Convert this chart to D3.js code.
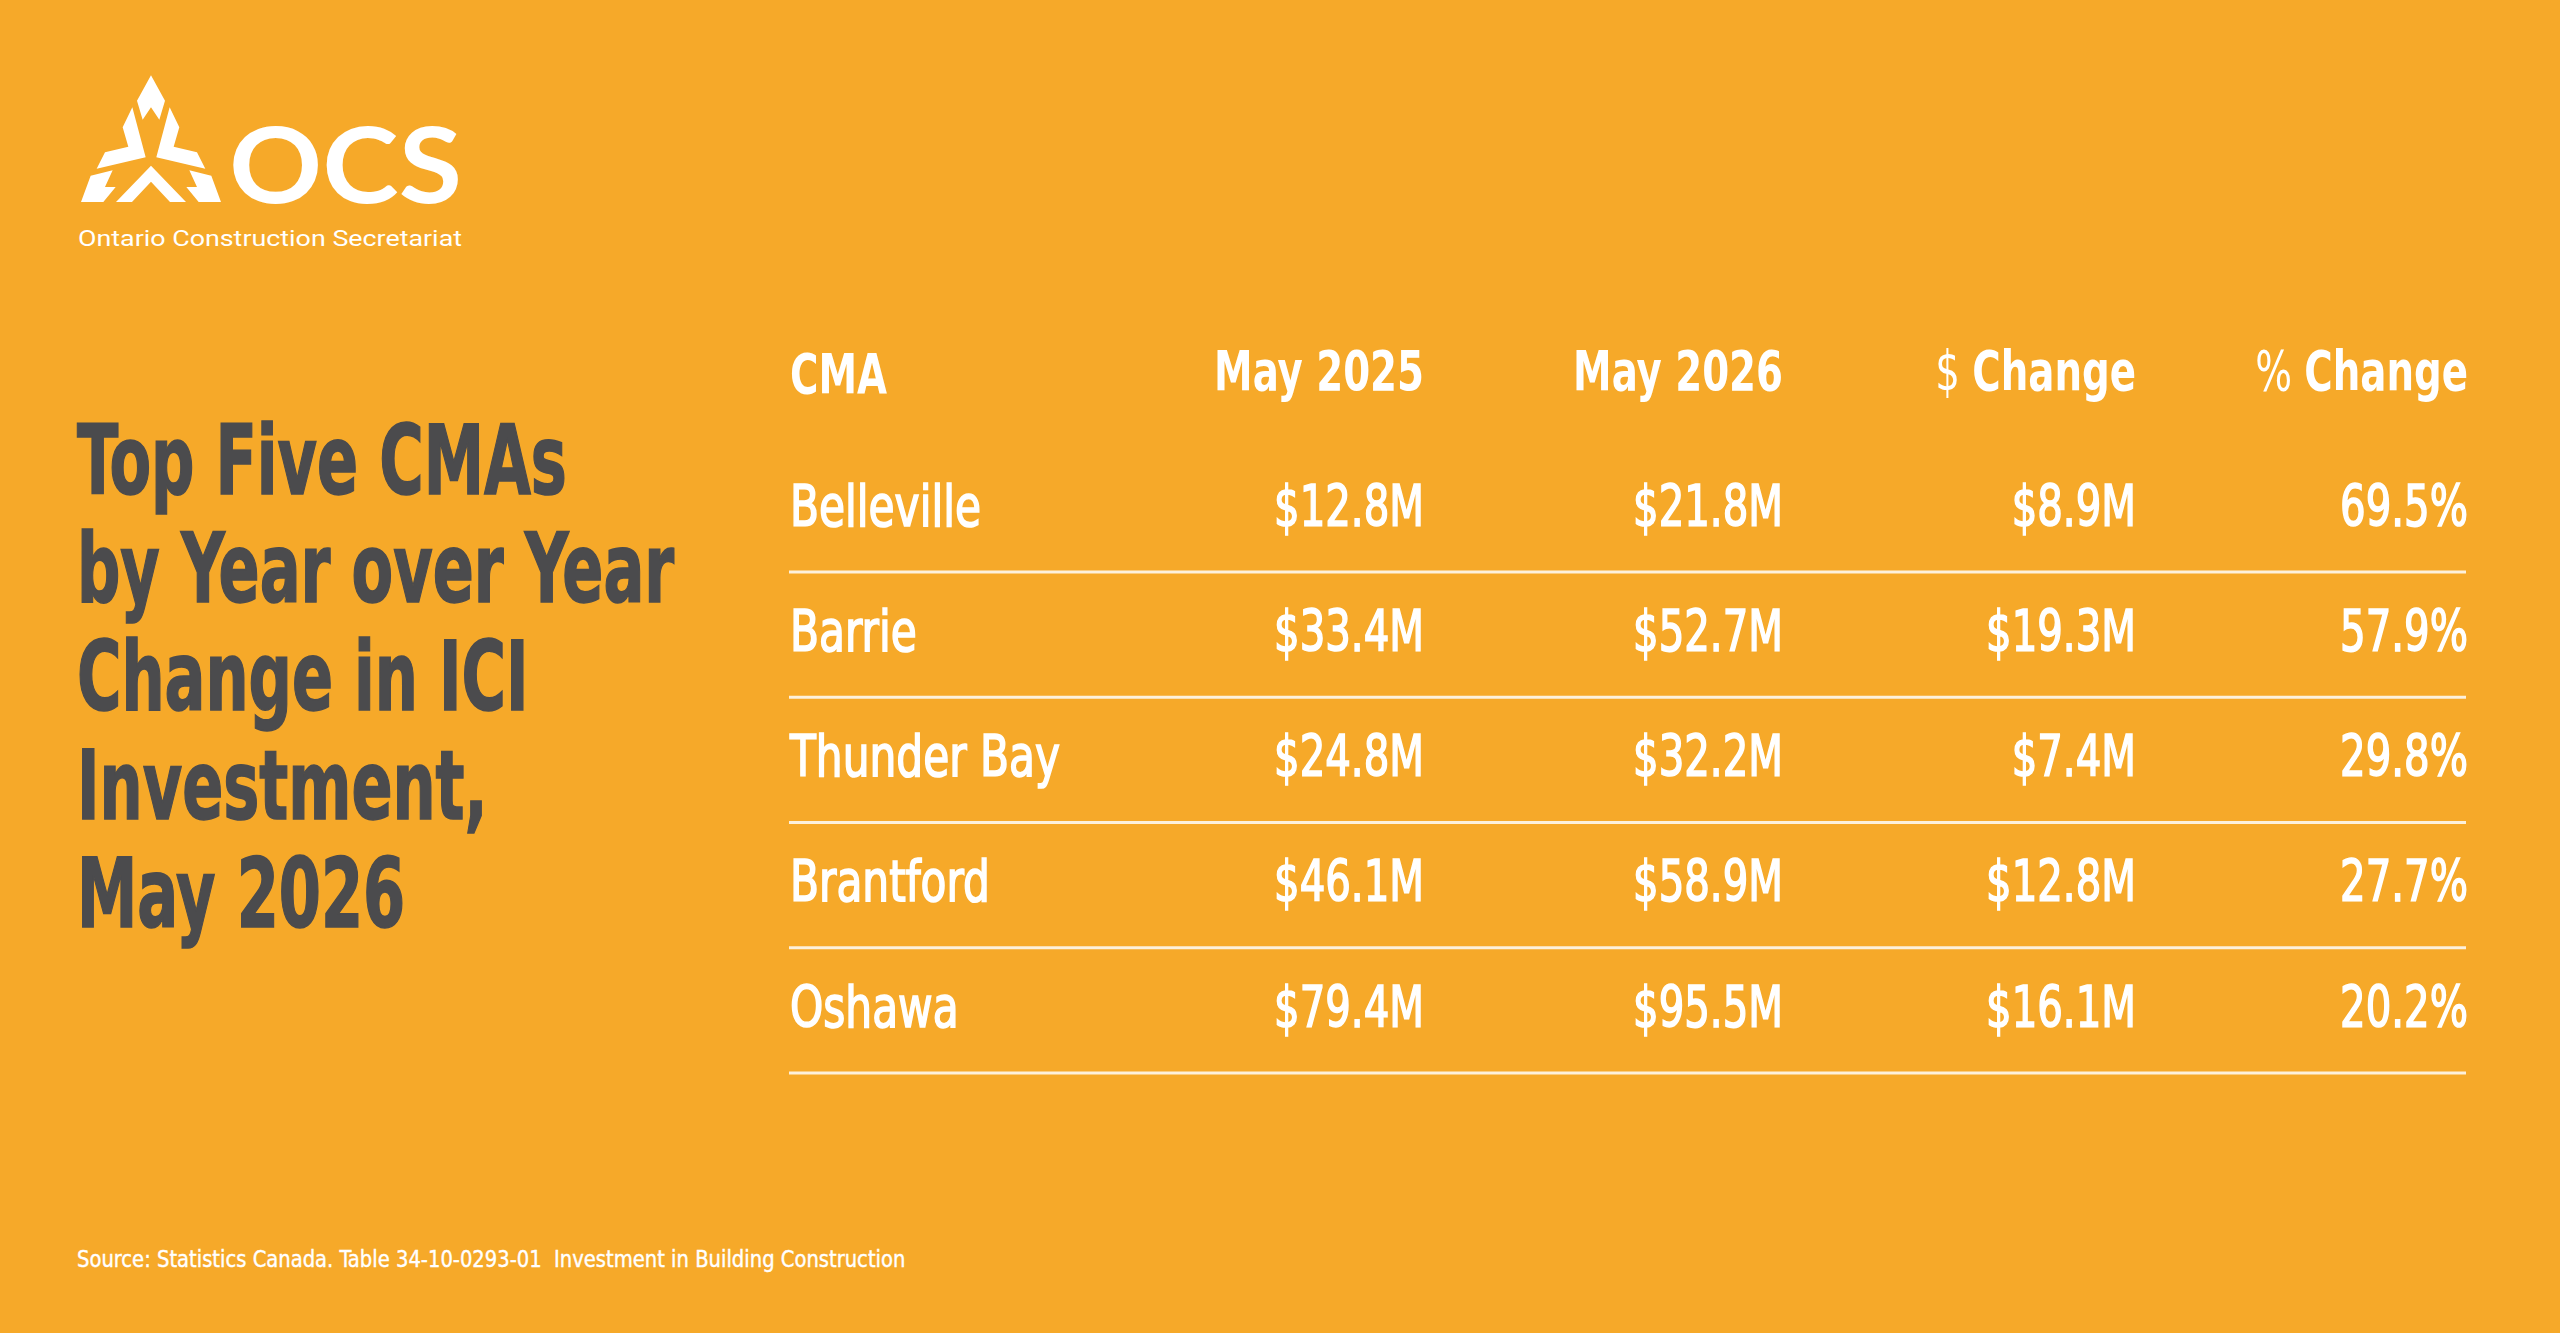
<!DOCTYPE html>
<html>
<head>
<meta charset="utf-8">
<script src="https://cdn.jsdelivr.net/npm/d3@7"></script>
<style>
  html, body { margin: 0; padding: 0; background: #F6A929; overflow: hidden; }
  svg { display: block; }
  .narrow { font-family: "Liberation Sans Narrow", "DejaVu Sans Condensed", "Roboto", sans-serif; }
</style>
</head>
<body>
<svg id="chart"></svg>
<script>
// table content
var headers = ["CMA", "May 2025", "May 2026", "$ Change", "% Change"];
var cmas = ["Belleville", "Barrie", "Thunder Bay", "Brantford", "Oshawa"];
var may2025 = [12.8, 33.4, 24.8, 46.1, 79.4];
var may2026 = [21.8, 52.7, 32.2, 58.9, 95.5];
var dollarChange = [8.9, 19.3, 7.4, 12.8, 16.1];
var pctChange = [69.5, 57.9, 29.8, 27.7, 20.2];

var titleLines = ["Top Five CMAs", "by Year over Year", "Change in ICI", "Investment,", "May 2026"];
var sourceText = "Source: Statistics Canada. Table 34-10-0293-01\u00a0 Investment in Building Construction";

var W = 2560, H = 1333;
var bg = "#F6A929", ink = "#4b4b4d", white = "#ffffff";

var svg = d3.select("#chart")
  .attr("width", W).attr("height", H)
  .attr("viewBox", "0 0 " + W + " " + H);

svg.append("rect").attr("width", W).attr("height", H).attr("fill", bg);

// squeeze a text horizontally so it fits the target width
function fitScale(textSel, target) {
  var w = textSel.node().getComputedTextLength();
  return w > 0 ? target / w : 1;
}

// ---- logo ----
var logo = svg.append("g").attr("class", "logo");
var icon = logo.append("g").attr("transform", "translate(70,68) scale(0.3333)");
var iconShapes = [
  [[243,22],[285,98],[268,155],[243,118],[218,155],[201,98]],
  [[187,118],[227,268],[80,302],[105,253],[175,236],[158,178]],
  [[299,118],[259,268],[406,302],[381,253],[311,236],[328,178]],
  [[138,402],[243,293],[348,402],[300,402],[243,341],[186,402]],
  [[62,323],[128,307],[105,357],[137,357],[100,402],[33,402]],
  [[424,323],[358,307],[381,357],[349,357],[386,402],[453,402]]
];
icon.selectAll("path").data(iconShapes).enter().append("path")
  .attr("d", function (d) { return "M" + d.join("L") + "Z"; })
  .attr("fill", white);

logo.append("text")
  .attr("x", 229).attr("y", 203)
  .attr("font-family", "Lato, 'Open Sans', sans-serif")
  .attr("font-weight", 700)
  .attr("font-size", 106)
  .attr("textLength", 233)
  .attr("lengthAdjust", "spacingAndGlyphs")
  .attr("fill", white)
  .text("OCS");

logo.append("text")
  .attr("x", 78).attr("y", 246)
  .attr("font-family", "Roboto, Lato, sans-serif")
  .attr("font-weight", 400)
  .attr("font-size", 22)
  .attr("textLength", 384)
  .attr("lengthAdjust", "spacingAndGlyphs")
  .attr("fill", white)
  .text("Ontario Construction Secretariat");

// ---- title ----
var titleY = d3.scaleLinear().domain([0, 1]).range([493.7, 602]);
var title = svg.append("g").attr("class", "narrow");
var tl = title.selectAll("text").data(titleLines).enter().append("text")
  .attr("font-size", 96)
  .attr("font-weight", 700)
  .attr("fill", ink)
  .attr("stroke", ink)
  .attr("stroke-width", 1.5)
  .text(function (d) { return d; });
var titleSx = fitScale(tl.filter(function (d, i) { return i === 0; }), 490);
tl.attr("transform", function (d, i) {
  return "translate(77," + titleY(i) + ") scale(" + titleSx + ",1)";
});

// ---- table ----
var colX = d3.scaleOrdinal().domain(headers).range([790, 1424, 1783, 2136, 2468]);
var rowY = d3.scaleBand().domain(cmas).range([463, 463 + 125.25 * cmas.length]);
var headerBase = 390;

var rows = cmas.map(function (c, i) {
  return [
    c,
    "$" + may2025[i].toFixed(1) + "M",
    "$" + may2026[i].toFixed(1) + "M",
    "$" + dollarChange[i].toFixed(1) + "M",
    pctChange[i].toFixed(1) + "%"
  ];
});

var table = svg.append("g").attr("class", "narrow");

// headers
var hd = table.append("g").selectAll("text").data(headers).enter().append("text")
  .attr("font-size", 56)
  .attr("font-weight", 700)
  .attr("fill", white)
  .attr("text-anchor", function (d, i) { return i === 0 ? "start" : "end"; });
hd.each(function (d) {
  var t = d3.select(this);
  var m = d.match(/^([$%]) (.*)$/);
  if (m) {
    t.append("tspan").attr("font-weight", 400).text(m[1] + " ");
    t.append("tspan").text(m[2]);
  } else {
    t.text(d);
  }
});
var headSx = fitScale(hd.filter(function (d, i) { return i === 1; }), 210);
hd.attr("transform", function (d) {
  return "translate(" + colX(d) + "," + (d === "CMA" ? headerBase + 3 : headerBase) + ") scale(" + headSx + ",1)";
});

// separators
table.append("g").selectAll("line").data(cmas).enter().append("line")
  .attr("x1", 789).attr("x2", 2466)
  .attr("y1", function (d) { return rowY(d) + 109; })
  .attr("y2", function (d) { return rowY(d) + 109; })
  .attr("stroke", "#fdf1dc")
  .attr("stroke-width", 3);

// body cells
var cells = [];
rows.forEach(function (r, i) {
  r.forEach(function (v, j) { cells.push({ row: cmas[i], col: headers[j], j: j, v: v }); });
});
var cl = table.append("g").selectAll("text").data(cells).enter().append("text")
  .attr("font-size", 57)
  .attr("font-weight", 400)
  .attr("fill", white)
  .attr("stroke", white)
  .attr("stroke-width", 1.6)
  .attr("text-anchor", function (d) { return d.j === 0 ? "start" : "end"; })
  .text(function (d) { return d.v; });
var nameSx = fitScale(cl.filter(function (d) { return d.row === "Thunder Bay" && d.j === 0; }), 270);
var numSx = fitScale(cl.filter(function (d) { return d.row === "Belleville" && d.j === 1; }), 150);
cl.attr("transform", function (d) {
  return "translate(" + colX(d.col) + "," + (rowY(d.row) + 62.7) + ") scale(" + (d.j === 0 ? nameSx : numSx) + ",1)";
});

// ---- source ----
var src = svg.append("text")
  .attr("class", "narrow")
  .attr("font-size", 23)
  .attr("fill", white)
  .attr("stroke", white)
  .attr("stroke-width", 0.4)
  .text(sourceText);
var srcSx = fitScale(src, 829);
src.attr("transform", "translate(77,1267) scale(" + srcSx + ",1)");
</script>
</body>
</html>
